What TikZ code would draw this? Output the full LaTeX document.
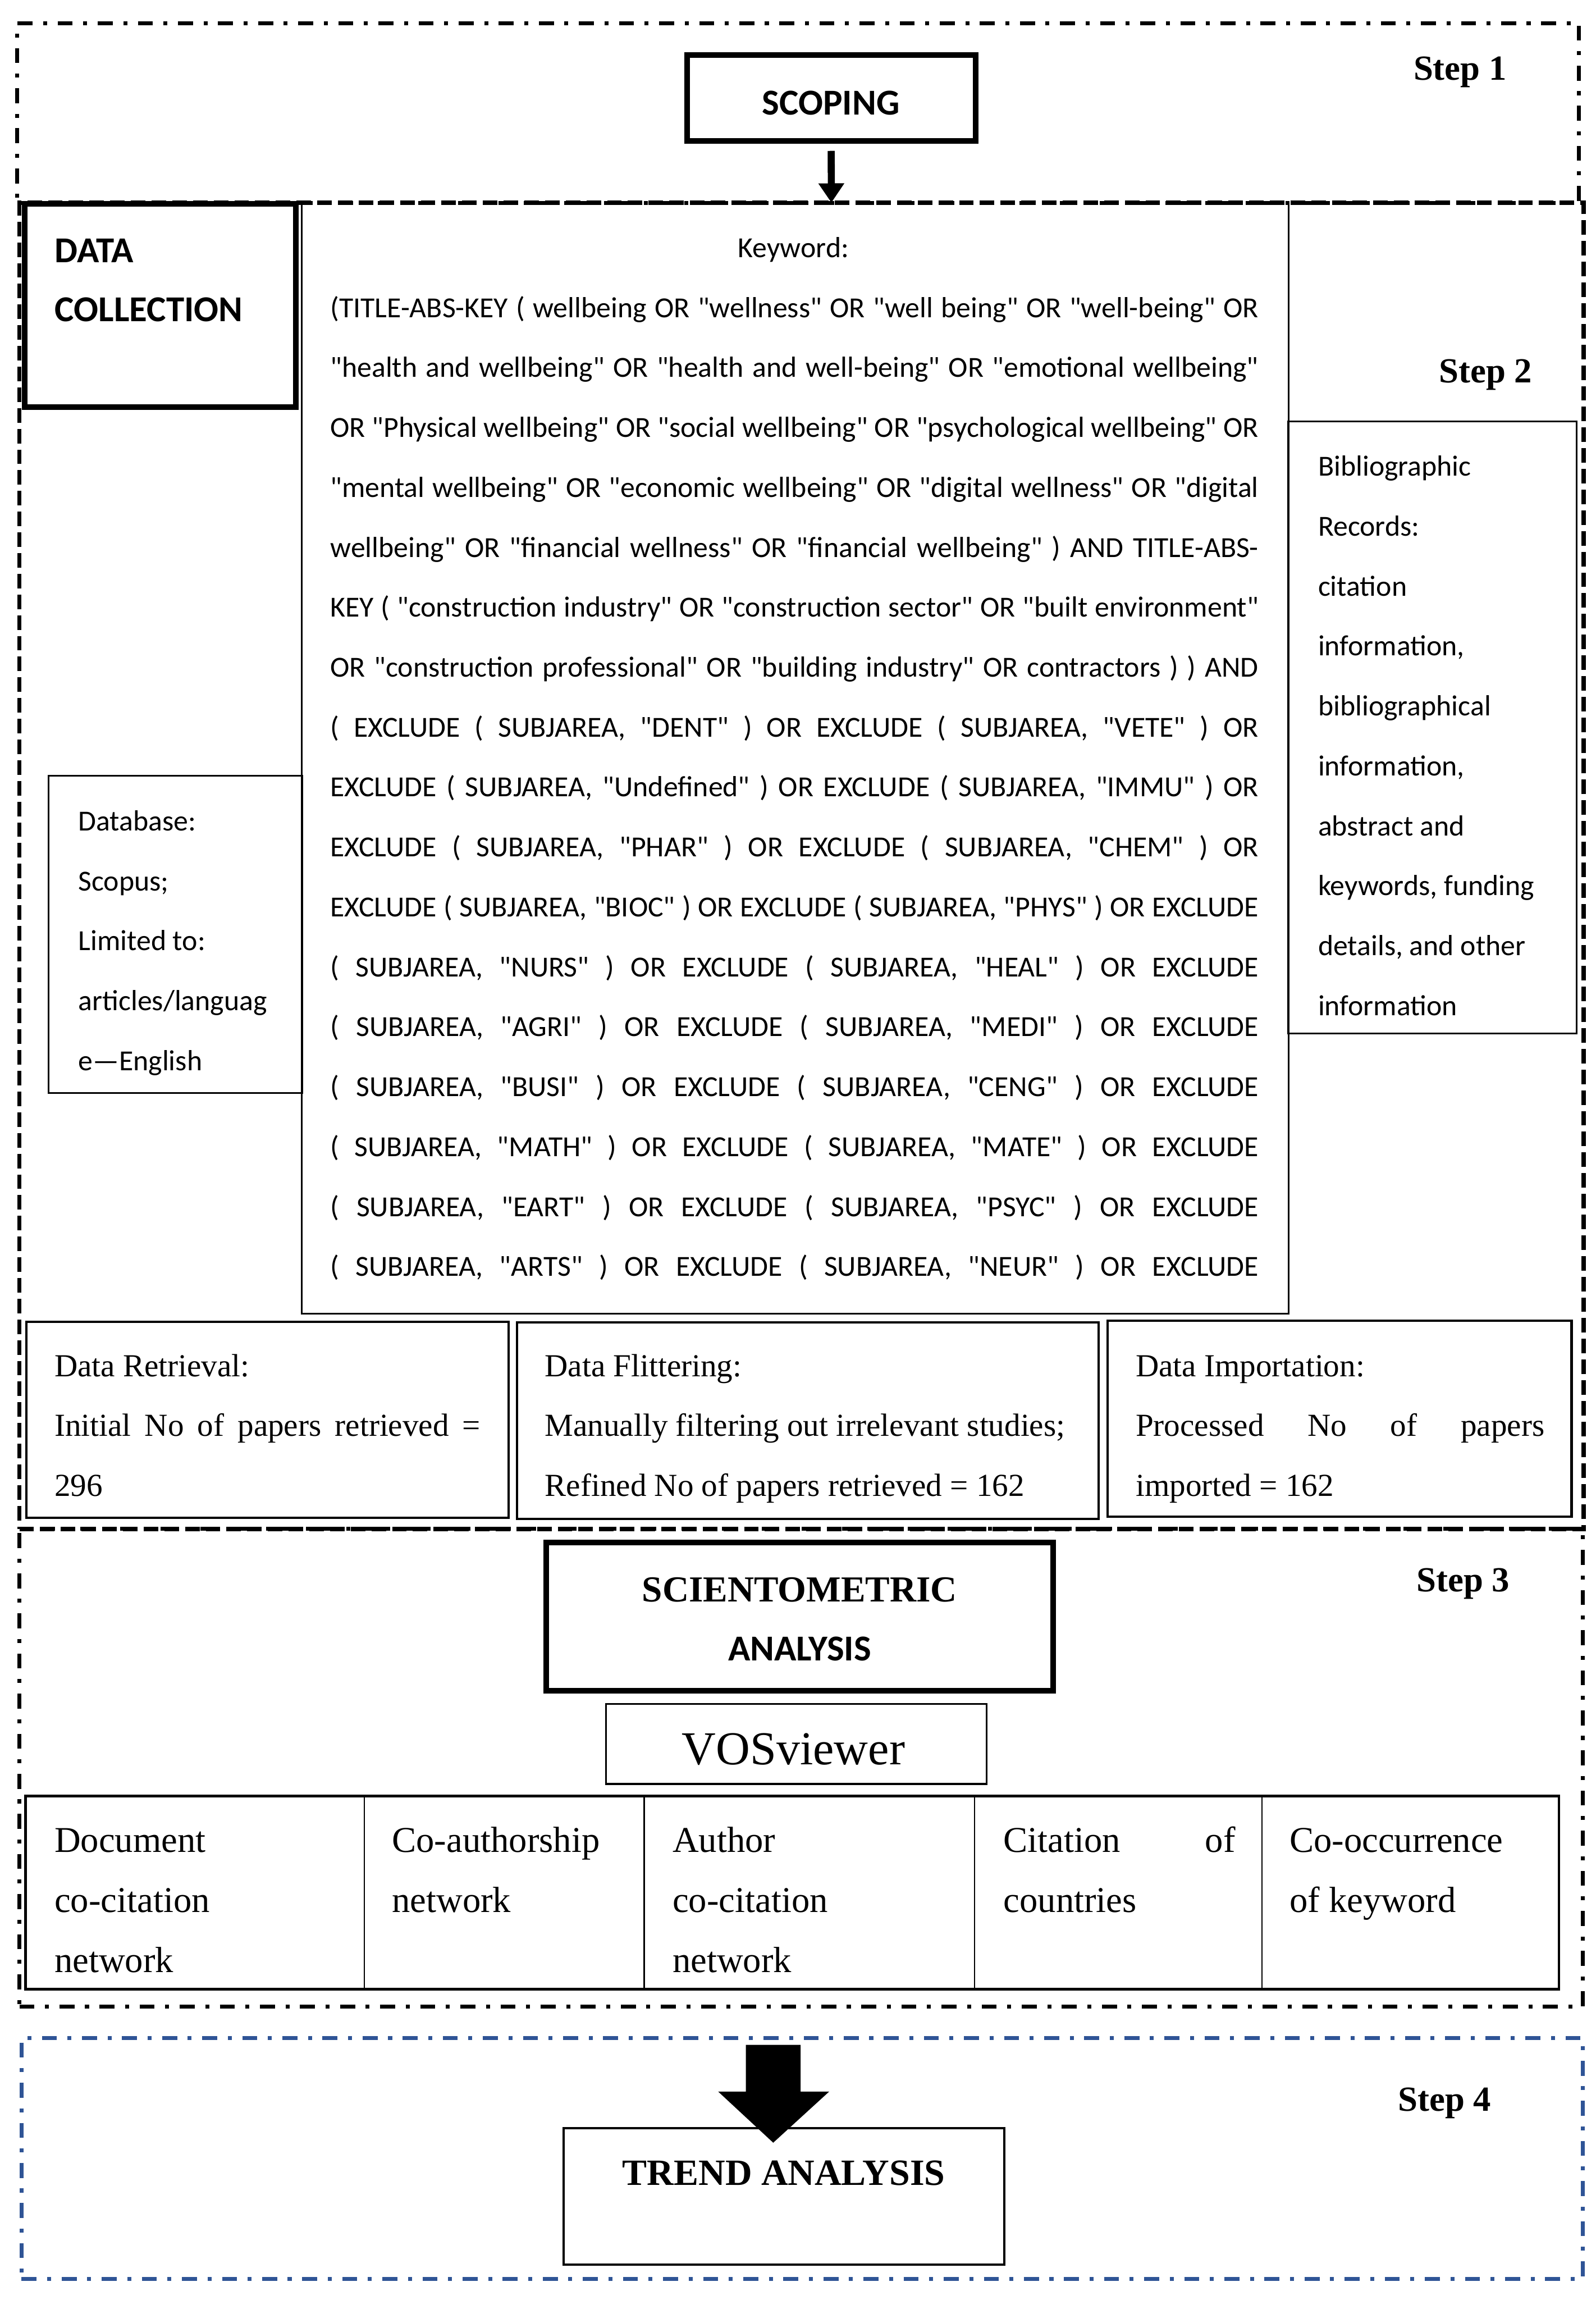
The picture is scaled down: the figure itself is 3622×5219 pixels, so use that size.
\documentclass[tikz,border=0pt]{standalone}
\usepackage{fontspec}
\setmainfont{Liberation Serif}
\newfontfamily\calibri{Carlito}
\usetikzlibrary{arrows.meta,calc}
\definecolor{stepblue}{HTML}{2F5496}
\newcommand{\calbody}{\calibri\fontsize{16.5pt}{34pt}\selectfont}
\newcommand{\calhead}{\calibri\bfseries\fontsize{20.7pt}{34pt}\selectfont}
\newcommand{\serdata}{\fontsize{18.2pt}{34pt}\selectfont}
\newcommand{\serrow}{\fontsize{20.6pt}{34pt}\selectfont}
\newcommand{\stepfont}{\bfseries\fontsize{20pt}{24pt}\selectfont}
\newcommand{\scifont}{\bfseries\fontsize{20.8pt}{24pt}\selectfont}
\newcommand{\vosfont}{\fontsize{26.8pt}{30pt}\selectfont}
\newcommand{\trendfont}{\bfseries\fontsize{21pt}{24pt}\selectfont}
\newcommand{\kwl}[2]{\node[txt, font=\calbody] (kw#1) at (749,{584+136*#1}) {\hbox to 526.75pt{#2}};}
\begin{document}
\begin{tikzpicture}[x=0.25pt,y=-0.25pt,
  dashdot/.style={draw, line width=2.25pt, dash pattern=on 8.5pt off 6pt on 2.25pt off 6pt},
  steponebox/.style={dashdot},
  steptwobox/.style={draw, line width=2.5pt, dash pattern=on 8.25pt off 3.5pt},
  stepthreebox/.style={dashdot},
  stepfourbox/.style={dashdot, draw=stepblue},
  box/.style={rectangle, inner sep=0},
  thickbox/.style={box, draw, line width=3.2pt},
  thinbox/.style={box, draw, line width=1pt},
  medbox/.style={box, draw, line width=1.3pt},
  cellbox/.style={box, draw, line width=0.8pt},
  txt/.style={inner sep=0, anchor=base west},
  ctxt/.style={inner sep=0, anchor=base},
  steplabel/.style={ctxt, font=\stepfont}
]
\useasboundingbox (0,0) rectangle (3622,5219);

% ---- step containers ----
\node[box, steponebox, minimum width=886.25pt, minimum height=101.75pt] (step1box) at (1811.5,256.5) {};
\node[box, stepthreebox, minimum width=887pt, minimum height=271pt] (step3box) at (1818,4011) {};
\node[box, steptwobox, minimum width=887.5pt, minimum height=752.25pt] (step2box) at (1819,1964.5) {};
\node[box, stepfourbox, minimum width=885.75pt, minimum height=136.75pt] (step4box) at (1820.5,4897.5) {};

\node[steplabel] (lab1) at (3314,182) {Step 1};
\node[steplabel] (lab2) at (3372,868) {Step 2};
\node[steplabel] (lab3) at (3321,3612) {Step 3};
\node[steplabel] (lab4) at (3279,4790) {Step 4};

% ---- step 1 ----
\node[thickbox, minimum width=163.75pt, minimum height=48.75pt] (scoping) at (1886.5,222.5) {};
\node[ctxt, font=\calhead] (scopingtxt) at (1886,261) {SCOPING};
\coordinate (s2top) at (1887,460);
\draw[line width=4pt, shorten <=4pt, -{Triangle[width=14pt,length=11pt]}] (scoping.south) -- (s2top);

% ---- step 2 ----
\node[thickbox, minimum width=154pt, minimum height=115.5pt] (datacoll) at (364,693) {};
\node[txt, font=\calhead] (dc1) at (124,596) {DATA};
\node[txt, font=\calhead] (dc2) at (124,730) {COLLECTION};

\node[box, minimum width=559.5pt, minimum height=630pt] (kwbox) at (1805,1720) {};
\draw[line width=1pt] (kwbox.north west) -- (kwbox.south west) -- (kwbox.south east) -- (kwbox.north east);

\node[ctxt, font=\calbody] (kw0) at (1801,584) {Keyword:};
\kwl{1}{(TITLE-ABS-KEY ( wellbeing OR "wellness" OR "well being" OR "well-being" OR}
\kwl{2}{"health and wellbeing" OR "health and well-being" OR "emotional wellbeing"}
\kwl{3}{OR "Physical wellbeing" OR "social wellbeing" OR "psychological wellbeing" OR}
\kwl{4}{"mental wellbeing" OR "economic wellbeing" OR "digital wellness" OR "digital}
\kwl{5}{wellbeing" OR "financial wellness" OR "financial wellbeing" ) AND TITLE-ABS-}
\kwl{6}{KEY ( "construction industry" OR "construction sector" OR "built environment"}
\kwl{7}{OR "construction professional" OR "building industry" OR contractors ) ) AND}
\kwl{8}{( EXCLUDE ( SUBJAREA, "DENT" ) OR EXCLUDE ( SUBJAREA, "VETE" ) OR}
\kwl{9}{EXCLUDE ( SUBJAREA, "Undefined" ) OR EXCLUDE ( SUBJAREA, "IMMU" ) OR}
\kwl{10}{EXCLUDE ( SUBJAREA, "PHAR" ) OR EXCLUDE ( SUBJAREA, "CHEM" ) OR}
\kwl{11}{EXCLUDE ( SUBJAREA, "BIOC" ) OR EXCLUDE ( SUBJAREA, "PHYS" ) OR EXCLUDE}
\kwl{12}{( SUBJAREA, "NURS" ) OR EXCLUDE ( SUBJAREA, "HEAL" ) OR EXCLUDE}
\kwl{13}{( SUBJAREA, "AGRI" ) OR EXCLUDE ( SUBJAREA, "MEDI" ) OR EXCLUDE}
\kwl{14}{( SUBJAREA, "BUSI" ) OR EXCLUDE ( SUBJAREA, "CENG" ) OR EXCLUDE}
\kwl{15}{( SUBJAREA, "MATH" ) OR EXCLUDE ( SUBJAREA, "MATE" ) OR EXCLUDE}
\kwl{16}{( SUBJAREA, "EART" ) OR EXCLUDE ( SUBJAREA, "PSYC" ) OR EXCLUDE}
\kwl{17}{( SUBJAREA, "ARTS" ) OR EXCLUDE ( SUBJAREA, "NEUR" ) OR EXCLUDE}

\node[thinbox, minimum width=144pt, minimum height=180pt] (dbbox) at (398,2120) {};
\foreach \t [count=\i from 0] in {{Database:},{Scopus;},{Limited to:},{articles/languag},{e—English}}
  \node[txt, font=\calbody] (db\i) at (177,{1885+136*\i}) {\t};

\node[thinbox, minimum width=163.5pt, minimum height=347.25pt] (bibbox) at (3251,1650.5) {};
\foreach \t [count=\i from 0] in {{Bibliographic},{Records:},{citation},{information,},{bibliographical},{information,},{abstract and},{keywords, funding},{details, and other},{information}}
  \node[txt, font=\calbody] (bib\i) at (2991,{1080+136*\i}) {\t};

\node[medbox, minimum width=273.5pt, minimum height=111.25pt] (retrieval) at (607,3221.5) {};
\node[medbox, minimum width=329.75pt, minimum height=111.25pt] (filter) at (1833.5,3223.5) {};
\node[medbox, minimum width=263.25pt, minimum height=111.25pt] (import) at (3040.5,3219.5) {};

\node[txt, font=\serdata] (dr1) at (123,3123) {Data Retrieval:};
\node[txt, font=\serdata] (dr2) at (123,3259) {\hbox to 241.75pt{Initial No of papers retrieved =}};
\node[txt, font=\serdata] (dr3) at (123,3395) {296};
\node[txt, font=\serdata] (df1) at (1236,3123) {Data Flittering:};
\node[txt, font=\serdata] (df2) at (1236,3259) {Manually filtering out irrelevant studies;};
\node[txt, font=\serdata] (df3) at (1236,3395) {Refined No of papers retrieved = 162};
\node[txt, font=\serdata] (di1) at (2577,3123) {Data Importation:};
\node[txt, font=\serdata] (di2) at (2577,3259) {\hbox to 232pt{Processed No of papers}};
\node[txt, font=\serdata] (di3) at (2577,3395) {imported = 162};

% ---- step 3 ----
\node[thickbox, minimum width=287.5pt, minimum height=84.25pt] (scient) at (1815,3668.5) {};
\node[ctxt, font=\scifont] (sc1) at (1815,3634) {SCIENTOMETRIC};
\node[ctxt, font=\calhead] (sc2) at (1815,3768) {ANALYSIS};

\node[thinbox, minimum width=216pt, minimum height=45.5pt] (vos) at (1807,3957) {};
\node[ctxt, font=\vosfont] (vostxt) at (1801,4004) {VOSviewer};

\node[cellbox, minimum width=192pt, minimum height=108.75pt] (doc) at (443,4294.5) {};
\node[cellbox, minimum width=158.75pt, minimum height=108.75pt] (coauth) at (1144.5,4294.5) {};
\node[cellbox, minimum width=187.5pt, minimum height=108.75pt] (author) at (1837,4294.5) {};
\node[cellbox, minimum width=163pt, minimum height=108.75pt] (cit) at (2538,4294.5) {};
\node[cellbox, minimum width=168.25pt, minimum height=108.75pt] (cooc) at (3200.5,4294.5) {};
\draw[line width=1.4pt] (doc.north west) rectangle (cooc.south east);

\node[txt, font=\serrow] (doc1) at (123,4203) {Document};
\node[txt, font=\serrow] (doc2) at (123,4339) {co-citation};
\node[txt, font=\serrow] (doc3) at (123,4475) {network};
\node[txt, font=\serrow] (ca1) at (889,4203) {Co-authorship};
\node[txt, font=\serrow] (ca2) at (889,4339) {network};
\node[txt, font=\serrow] (au1) at (1526,4203) {Author};
\node[txt, font=\serrow] (au2) at (1526,4339) {co-citation};
\node[txt, font=\serrow] (au3) at (1526,4475) {network};
\node[txt, font=\serrow] (ci1) at (2277,4203) {\hbox to 131.5pt{Citation of}};
\node[txt, font=\serrow] (ci2) at (2277,4339) {countries};
\node[txt, font=\serrow] (co1) at (2926,4203) {Co-occurrence};
\node[txt, font=\serrow] (co2) at (2926,4339) {of keyword};

% ---- step 4 ----
\node[medbox, minimum width=250.25pt, minimum height=77.5pt] (trend) at (1779.5,4984) {};
\node[ctxt, font=\trendfont] (trendtxt) at (1779,4959) {TREND ANALYSIS};
\coordinate (a4top) at (1755,4640);
\coordinate (a4tip) at (1755,4862);
\fill ($(a4top)+(-62,0)$) -- ($(a4top)+(62,0)$) -- ($(a4top)+(62,106)$) -- ($(a4top)+(127,106)$)
  -- (a4tip) -- ($(a4top)+(-125,106)$) -- ($(a4top)+(-62,106)$) -- cycle;
\end{tikzpicture}
\end{document}
